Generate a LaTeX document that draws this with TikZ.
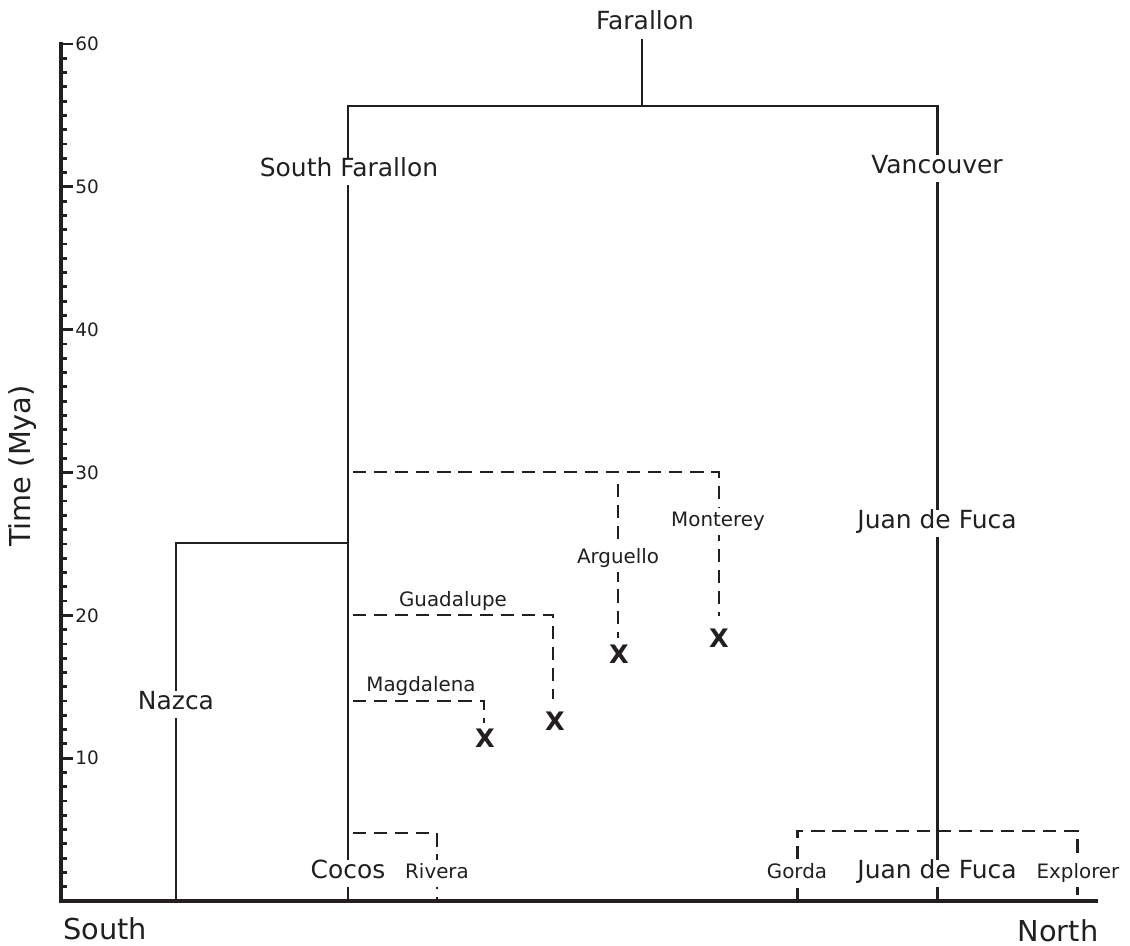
\documentclass[tikz,border=0pt]{standalone}
\usepackage{fontspec}
\setmainfont{DejaVu Sans}
\definecolor{ink}{HTML}{231F20}
\begin{document}
\begin{tikzpicture}[x=0.02cm,y=-0.02cm,
  solidline/.style={draw=ink, line width=1.7pt},
  dashline/.style={draw=ink, line width=1.7pt, dash pattern=on 7.5pt off 4.5pt},
  axisline/.style={draw=ink, line width=2pt},
  tickline/.style={draw=ink, line width=1.6pt},
  biglabel/.style={fill=white, text=ink, font=\fontsize{14.2}{17}\selectfont, inner xsep=1pt, inner ysep=3pt, text height=0.75em, text depth=0.22em, yshift=-4.5*0.02cm},
  smalllabel/.style={fill=white, text=ink, font=\fontsize{11.3}{14}\selectfont, inner xsep=1pt, inner ysep=3pt, text height=0.75em, text depth=0.22em, yshift=-3.5*0.02cm},
  toplabel/.style={smalllabel, fill=none},
  xmark/.style={text=ink, font=\bfseries\fontsize{14.5}{17}\selectfont, inner sep=0pt},
  axisnum/.style={text=ink, font=\fontsize{10.5}{12}\selectfont, anchor=west, inner sep=0pt},
  axistitle/.style={text=ink, font=\fontsize{16.4}{19}\selectfont, inner sep=0pt}
]
\useasboundingbox (0,0) rectangle (1130,946);

% axes
\coordinate (ytop) at (61,42);
\coordinate (origin) at (61,901);
\coordinate (xend) at (1098,901);
\draw[axisline] (ytop) -- (origin) -- (xend);
\foreach \i in {1,...,60} {
  \pgfmathsetmacro{\yy}{901-\i*14.283}
  \pgfmathtruncatemacro{\m}{mod(\i,10)}
  \ifnum\m=0
    \draw[tickline] (61,\yy) -- (73,\yy);
  \else
    \draw[tickline] (61,\yy) -- (67,\yy);
  \fi
}
\foreach \v in {10,20,...,60} {
  \pgfmathsetmacro{\yy}{901-\v*14.283}
  \node[axisnum] (num\v) at (75,\yy) {\v};
}
\node[axistitle, rotate=90] (ytitle) at (23,466) {Time (Mya)};
\node[axistitle] (south) at (105,929) {South};
\node[axistitle] (north) at (1058,931) {North};

% main tree
\node[biglabel] (farallon) at (645,20) {Farallon};
\coordinate (fj) at (642,106);
\coordinate (sfj) at (348,106);
\coordinate (vj) at (937,106);
\coordinate (sfb) at (348,901);
\coordinate (vb) at (937,901);
\draw[solidline] (farallon.south -| fj) -- (fj);
\draw[solidline] (sfb) -- (sfj) -- (vj) -- (vb);

% Nazca
\coordinate (nj) at (348,543);
\coordinate (nc) at (176,543);
\coordinate (nb) at (176,901);
\draw[solidline] (nj) -- (nc) -- (nb);

% dashed branches
\coordinate (m0) at (353,472);
\coordinate (m1) at (719,472);
\coordinate (m2) at (719,616);
\draw[dashline] (m0) -- (m1) -- (m2);
\coordinate (a0) at (618,484);
\coordinate (a1) at (618,638);
\draw[dashline] (a0) -- (a1);

\coordinate (g0) at (353,615);
\coordinate (g1) at (553,615);
\coordinate (g2) at (553,699);
\draw[dashline] (g0) -- (g1) -- (g2);

\coordinate (d0) at (353,701);
\coordinate (d1) at (484,701);
\coordinate (d2) at (484,723);
\draw[dashline] (d0) -- (d1) -- (d2);

\coordinate (c0) at (353,833);
\coordinate (c1) at (437,833);
\coordinate (c2) at (437,901);
\draw[dashline] (c0) -- (c1) -- (c2);

\coordinate (e0) at (797,901);
\coordinate (e1) at (797,831);
\coordinate (e2) at (1077,831);
\coordinate (e3) at (1077,901);
\draw[dashline] (e0) -- (e1) -- (e2) -- (e3);

% labels
\node[biglabel] (southfar) at (349,167) {South Farallon};
\node[biglabel] (vanc) at (937,164) {Vancouver};
\node[biglabel] (jdf1) at (937,519) {Juan de Fuca};
\node[biglabel] (jdf2) at (937,869) {Juan de Fuca};
\node[biglabel] (nazca) at (176,700) {Nazca};
\node[biglabel] (cocos) at (348,869) {Cocos};
\node[smalllabel] (rivera) at (437,870) {Rivera};
\node[smalllabel] (gorda) at (797,870) {Gorda};
\node[smalllabel] (explorer) at (1078,870) {Explorer};
\node[toplabel] (guad) at (453,598) {Guadalupe};
\node[toplabel] (magd) at (421,683) {Magdalena};
\node[smalllabel] (arg) at (618,555) {Arguello};
\node[smalllabel] (mont) at (718,518) {Monterey};

% extinction marks
\node[xmark] (xmagd) at (485,738) {X};
\node[xmark] (xguad) at (555,721) {X};
\node[xmark] (xarg) at (619,654) {X};
\node[xmark] (xmont) at (719,638) {X};
\end{tikzpicture}
\end{document}
